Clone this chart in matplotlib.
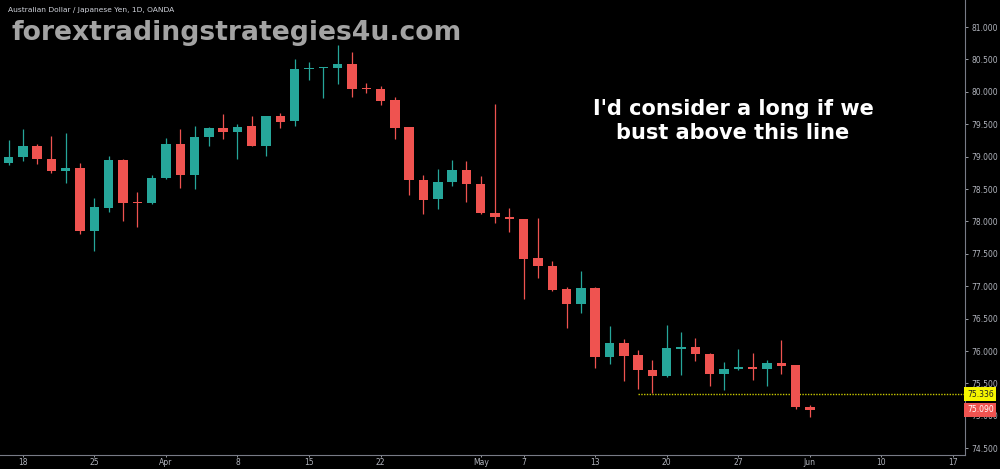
import matplotlib
matplotlib.use("Agg")
import matplotlib.pyplot as plt
from matplotlib.patches import Rectangle

opens = [78.90, 78.99, 79.16, 78.97, 78.78, 78.82, 77.85, 78.21, 78.95, 78.30,
         78.28, 78.67, 79.20, 78.72, 79.30, 79.44, 79.38, 79.47, 79.17, 79.62,
         79.55, 80.35, 80.37, 80.37, 80.43, 80.05, 80.04, 79.87, 79.45, 78.64,
         78.34, 78.61, 78.80, 78.57, 78.13, 78.07, 78.03, 77.43, 77.31, 76.96,
         76.72, 76.98, 75.90, 76.12, 75.94, 75.71, 75.61, 76.03, 76.06, 75.96,
         75.64, 75.72, 75.75, 75.72, 75.82, 75.78, 75.13]
highs = [79.25, 79.42, 79.19, 79.32, 79.37, 78.90, 78.36, 79.01, 78.96, 78.46,
         78.72, 79.28, 79.43, 79.47, 79.46, 79.65, 79.50, 79.63, 79.62, 79.67,
         80.50, 80.46, 80.38, 80.72, 80.61, 80.13, 80.09, 79.92, 79.46, 78.72,
         78.81, 78.95, 78.94, 78.70, 79.81, 78.20, 78.04, 78.06, 77.39, 76.99,
         77.24, 76.99, 76.38, 76.19, 76.02, 75.86, 76.40, 76.30, 76.20, 75.97,
         75.83, 76.03, 75.97, 75.86, 76.17, 75.79, 75.17]
lows = [78.87, 78.93, 78.88, 78.74, 78.60, 77.80, 77.55, 78.15, 78.01, 77.92,
        78.27, 78.66, 78.52, 78.50, 79.16, 79.27, 78.97, 79.16, 79.01, 79.44,
        79.47, 80.19, 79.90, 80.12, 79.92, 79.98, 79.79, 79.27, 78.40, 78.11,
        78.19, 78.54, 78.30, 78.12, 77.97, 77.84, 76.80, 77.12, 76.92, 76.35,
        76.58, 75.74, 75.80, 75.54, 75.41, 75.35, 75.60, 75.63, 75.85, 75.46,
        75.40, 75.71, 75.56, 75.46, 75.64, 75.10, 74.98]
closes = [79.00, 79.16, 78.96, 78.78, 78.82, 77.85, 78.22, 78.95, 78.29, 78.28,
          78.67, 79.20, 78.72, 79.31, 79.44, 79.38, 79.46, 79.17, 79.62, 79.54,
          80.35, 80.37, 80.38, 80.43, 80.04, 80.04, 79.86, 79.44, 78.64, 78.33,
          78.61, 78.80, 78.57, 78.13, 78.07, 78.03, 77.42, 77.31, 76.94, 76.72,
          76.98, 75.90, 76.12, 75.93, 75.71, 75.61, 76.04, 76.06, 75.95, 75.64,
          75.72, 75.75, 75.72, 75.82, 75.77, 75.13, 75.09]

date_idx = [1, 6, 11, 16, 21, 26, 33, 36, 41, 46, 51, 56, 61, 66]
date_labels = ["18", "25", "Apr", "8", "15", "22", "May", "7", "13", "20", "27", "Jun", "10", "17"]

price_ticks = [74.5, 75.0, 75.5, 76.0, 76.5, 77.0, 77.5, 78.0, 78.5, 79.0, 79.5, 80.0, 80.5, 81.0]
line_level = 75.336
line_start = 44
last_price = 75.090

UP = "#26a69a"
DOWN = "#ef5350"
AXIS = "#b2b5be"
BG = "#000000"

fig = plt.figure(figsize=(10, 4.69), dpi=100, facecolor=BG)
ax = fig.add_axes([0, 14 / 469, 965 / 1000, 455 / 469], facecolor=BG)

w = 0.66
for i in range(len(opens)):
    o, h, l, c = opens[i], highs[i], lows[i], closes[i]
    col = UP if c >= o else DOWN
    ax.plot([i, i], [l, h], color=col, lw=0.9, solid_capstyle="butt", zorder=2)
    bottom = min(o, c)
    height = max(abs(c - o), 0.02)
    ax.add_patch(Rectangle((i - w / 2, bottom), w, height, facecolor=col,
                           edgecolor="none", zorder=3))

ax.plot([line_start, 70], [line_level, line_level], color="#c8c800", lw=1,
        ls=(0, (1, 1)), zorder=1)

ax.set_xlim(-0.594, 66.84)
ax.set_ylim(74.395, 81.417)

ax.yaxis.tick_right()
ax.set_yticks(price_ticks)
ax.set_yticklabels(["%.3f" % p for p in price_ticks])
ax.set_xticks(date_idx)
ax.set_xticklabels(date_labels)
ax.tick_params(axis="both", colors=AXIS, labelsize=5.5, length=2.5, width=0.6,
               labelcolor=AXIS)
ax.tick_params(axis="y", pad=2)
ax.tick_params(axis="x", pad=0.5, length=1.5)

for s in ["top", "left"]:
    ax.spines[s].set_visible(False)
for s in ["right", "bottom"]:
    ax.spines[s].set_color("#787b86")
    ax.spines[s].set_linewidth(0.8)

# price tags on the right scale
ax.text(1.002, line_level, "75.336", transform=ax.get_yaxis_transform(),
        fontsize=5.5, color="#202020", va="center", ha="left", zorder=5,
        bbox=dict(boxstyle="square,pad=0.35", facecolor="#f5f500", edgecolor="none"),
        clip_on=False)
ax.text(1.002, last_price, "%.3f" % last_price, transform=ax.get_yaxis_transform(),
        fontsize=5.5, color="white", va="center", ha="left", zorder=5,
        bbox=dict(boxstyle="square,pad=0.35", facecolor=DOWN, edgecolor="none"),
        clip_on=False)

fig.text(0.008, 1 - 10 / 469, "Australian Dollar / Japanese Yen, 1D, OANDA",
         fontsize=5.4, color="#d1d4dc", va="center", ha="left")
fig.text(0.012, 1 - 33 / 469, "forextradingstrategies4u.com", fontsize=19.2,
         fontweight="bold", color="#a3a3a3", va="center", ha="left")
fig.text(0.733, 1 - 121 / 469, "I'd consider a long if we\nbust above this line",
         fontsize=15, fontweight="bold", color="white", va="center",
         ha="center", linespacing=1.2)

fig.savefig("out.png", dpi=100, facecolor=BG)
